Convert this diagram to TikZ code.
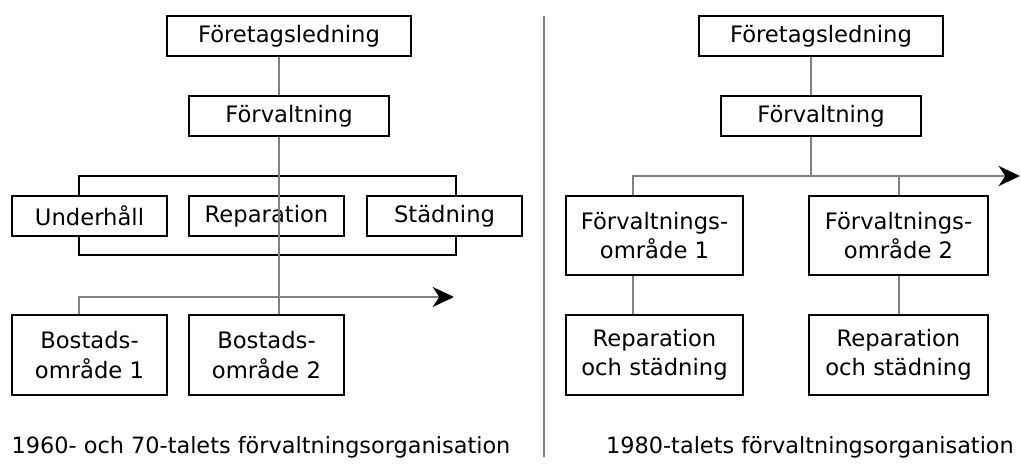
\documentclass[tikz,border=0pt]{standalone}
\usepackage{fontspec}
\setmainfont{DejaVu Sans}
\usetikzlibrary{arrows.meta}
\begin{document}
\begin{tikzpicture}[x=0.75pt,y=-0.75pt,
  box/.style={draw=black,line width=1.4pt,inner sep=0pt,align=center,
    font=\fontsize{17}{22}\selectfont},
  conn/.style={draw=black!50,line width=2.1pt},
  bracket/.style={draw=black,line width=1.4pt},
  flow/.style={draw=black!50,line width=2.1pt,
    -{Stealth[length=16pt,width=15pt,inset=5pt,color=black]}},
  caption/.style={font=\fontsize{16.8}{20}\selectfont}]
\useasboundingbox[fill=white] (0,0) rectangle (1021,464);

% ---- 1960s and 70s organisation ----
\node[box,minimum width=183pt,minimum height=30pt] (lfl) at (289,36) {Företagsledning};
\node[box,minimum width=150pt,minimum height=30pt] (lfv) at (289,116) {Förvaltning};
\node[box,minimum width=116.25pt,minimum height=30pt] (und) at (89.5,216) {Underhåll};
\node[box,minimum width=116.25pt,minimum height=30pt] (rep) at (266.5,216) {Reparation};
\node[box,minimum width=116.25pt,minimum height=30pt] (sta) at (444.5,216) {Städning};
\node[box,minimum width=116.25pt,minimum height=60pt] (bo1) at (89.5,355) {Bostads-\\område 1};
\node[box,minimum width=116.25pt,minimum height=60pt] (bo2) at (266.5,355) {Bostads-\\område 2};

\coordinate (lsp) at (279,0);
\coordinate (lbl) at (79,0);
\coordinate (lbr) at (456,0);

% brackets enclosing the three service units
\draw[bracket] (und.north -| lbl) -- (79,176) -- (456,176) -- (sta.north -| lbr);
\draw[bracket] (und.south -| lbl) -- (79,255) -- (456,255) -- (sta.south -| lbr);

% main line of command
\draw[conn] (lfl.south -| lsp) -- (lfv.north -| lsp);
\draw[conn] (lfv.south -| lsp) -- (bo2.north -| lsp);
\draw[flow] (bo1.north -| lbl) -- (79,297) -- (454,297);

\node[caption] (lcap) at (261,447) {1960- och 70-talets förvaltningsorganisation};

% ---- divider ----
\coordinate (dtop) at (544,16);
\coordinate (dbot) at (544,457);
\draw[conn] (dtop) -- (dbot);

% ---- 1980s organisation ----
\node[box,minimum width=183pt,minimum height=30pt] (rfl) at (821,36) {Företagsledning};
\node[box,minimum width=150pt,minimum height=30pt] (rfv) at (821,116) {Förvaltning};
\node[box,minimum width=132.75pt,minimum height=59.25pt] (fo1) at (654.5,235.5) {Förvaltnings-\\område 1};
\node[box,minimum width=134.25pt,minimum height=59.25pt] (fo2) at (898.5,235.5) {Förvaltnings-\\område 2};
\node[box,minimum width=132.75pt,minimum height=60pt] (rs1) at (654.5,355) {Reparation\\och städning};
\node[box,minimum width=134.25pt,minimum height=60pt] (rs2) at (898.5,355) {Reparation\\och städning};

\coordinate (rsp) at (811,0);
\coordinate (c1) at (633,0);
\coordinate (c2) at (899,0);

\draw[conn] (rfl.south -| rsp) -- (rfv.north -| rsp);
\draw[conn] (rfv.south -| rsp) -- (811,176);
\draw[flow] (fo1.north -| c1) -- (633,176) -- (1020,176);
\draw[conn] (fo2.north -| c2) -- (899,176);
\draw[conn] (fo1.south -| c1) -- (rs1.north -| c1);
\draw[conn] (fo2.south -| c2) -- (rs2.north -| c2);

\node[caption] (rcap) at (810,447) {1980-talets förvaltningsorganisation};
\end{tikzpicture}
\end{document}
